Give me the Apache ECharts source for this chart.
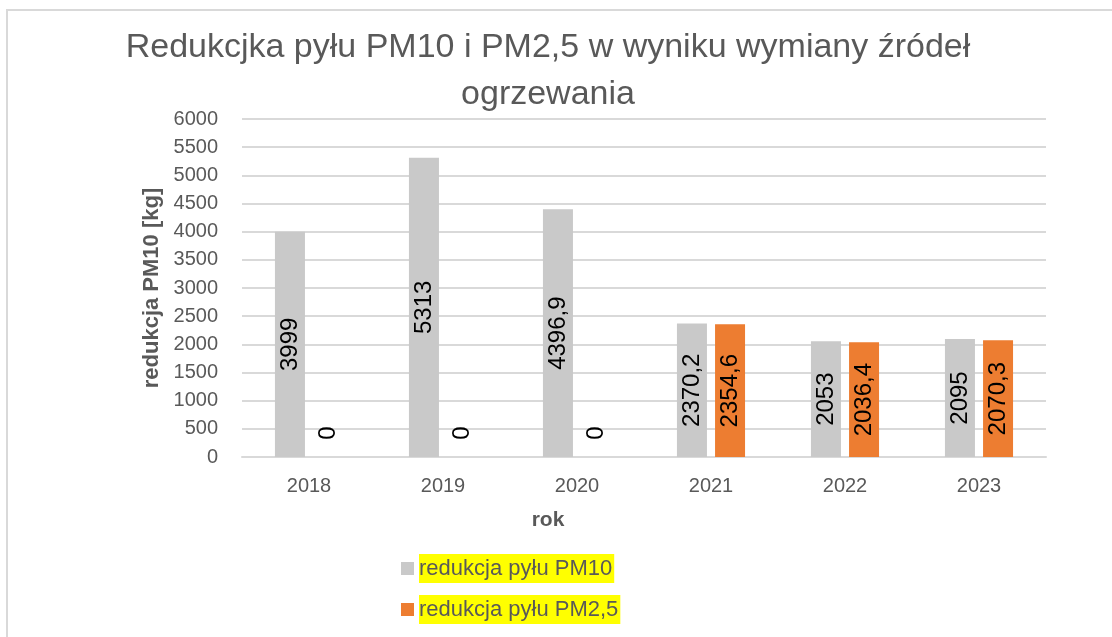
<!doctype html>
<html>
<head>
<meta charset="utf-8"/>
<title>Redukcja pyłu</title>
<script src="https://cdn.jsdelivr.net/npm/echarts@6/dist/echarts.min.js"></script>
<style>
body { margin: 0; background: #fff; }
#chart { width: 1112px; height: 637px; }
</style>
</head>
<body>
<div id="chart"></div>
<script>
// dane
const years = ['2018', '2019', '2020', '2021', '2022', '2023'];
const pm10 = [3999, 5313, 4396.9, 2370.2, 2053, 2095];
const pm25 = [0, 0, 0, 2354.6, 2036.4, 2070.3];
const seriesNames = ['redukcja pyłu PM10', 'redukcja pyłu PM2,5'];

const FONT = 'Liberation Sans, Arial, sans-serif';
const fmt = v => String(v).replace('.', ',');

// etykiety dla zera podniesione nad oś, jak w Excelu (offset w układzie obróconym)
const withZeroLabel = arr => arr.map(v => v === 0 ? { value: v, label: { offset: [24, 0] } } : v);

const barLabel = {
    show: true,
    position: 'inside',
    rotate: 90,
    color: '#000',
    fontSize: 24,
    fontFamily: FONT,
    formatter: p => fmt(p.value)
};

const chart = echarts.init(document.getElementById('chart'));
chart.setOption({
    animation: false,
    textStyle: { fontFamily: FONT },
    graphic: [
        { type: 'rect', shape: { x: 7, y: 10, width: 1120, height: 700 }, style: { fill: 'none', stroke: '#d9d9d9', lineWidth: 2 }, silent: true },
        { type: 'text', x: 548, y: 31, style: { text: 'Redukcjka pyłu PM10 i PM2,5 w wyniku wymiany źródeł', font: '34px ' + FONT, fill: '#595959', align: 'center' } },
        { type: 'text', x: 548, y: 78, style: { text: 'ogrzewania', font: '34px ' + FONT, fill: '#595959', align: 'center' } },
        { type: 'text', x: 548, y: 510, style: { text: 'rok', font: 'bold 21px ' + FONT, fill: '#595959', align: 'center' } }
    ],
    grid: { left: 242, right: 66, top: 119, bottom: 180 },
    legend: {
        orient: 'vertical',
        left: 396,
        top: 549,
        itemGap: 12,
        itemWidth: 13,
        itemHeight: 13,
        icon: 'rect',
        data: seriesNames,
        textStyle: {
            color: '#595959',
            fontSize: 22,
            fontFamily: FONT,
            backgroundColor: '#ffff00',
            padding: [4, 2, 3, 0]
        }
    },
    xAxis: {
        type: 'category',
        data: years,
        axisLine: { lineStyle: { color: '#d9d9d9', width: 2 } },
        axisTick: { show: false },
        axisLabel: { color: '#595959', fontSize: 20, margin: 19 }
    },
    yAxis: {
        type: 'value',
        min: 0,
        max: 6000,
        interval: 500,
        name: 'redukcja PM10 [kg]',
        nameLocation: 'middle',
        nameGap: 76,
        nameTextStyle: { color: '#595959', fontSize: 22, fontWeight: 'bold' },
        axisLabel: { color: '#595959', fontSize: 20, margin: 24, formatter: v => String(v) },
        splitLine: { lineStyle: { color: '#d9d9d9', width: 2 } }
    },
    series: [
        {
            name: seriesNames[0],
            type: 'bar',
            data: withZeroLabel(pm10),
            barWidth: 30,
            barGap: '27%',
            itemStyle: { color: '#c9c9c9' },
            label: barLabel
        },
        {
            name: seriesNames[1],
            type: 'bar',
            data: withZeroLabel(pm25),
            barWidth: 30,
            barGap: '27%',
            itemStyle: { color: '#ed7d31' },
            label: barLabel
        }
    ]
});
</script>
</body>
</html>
